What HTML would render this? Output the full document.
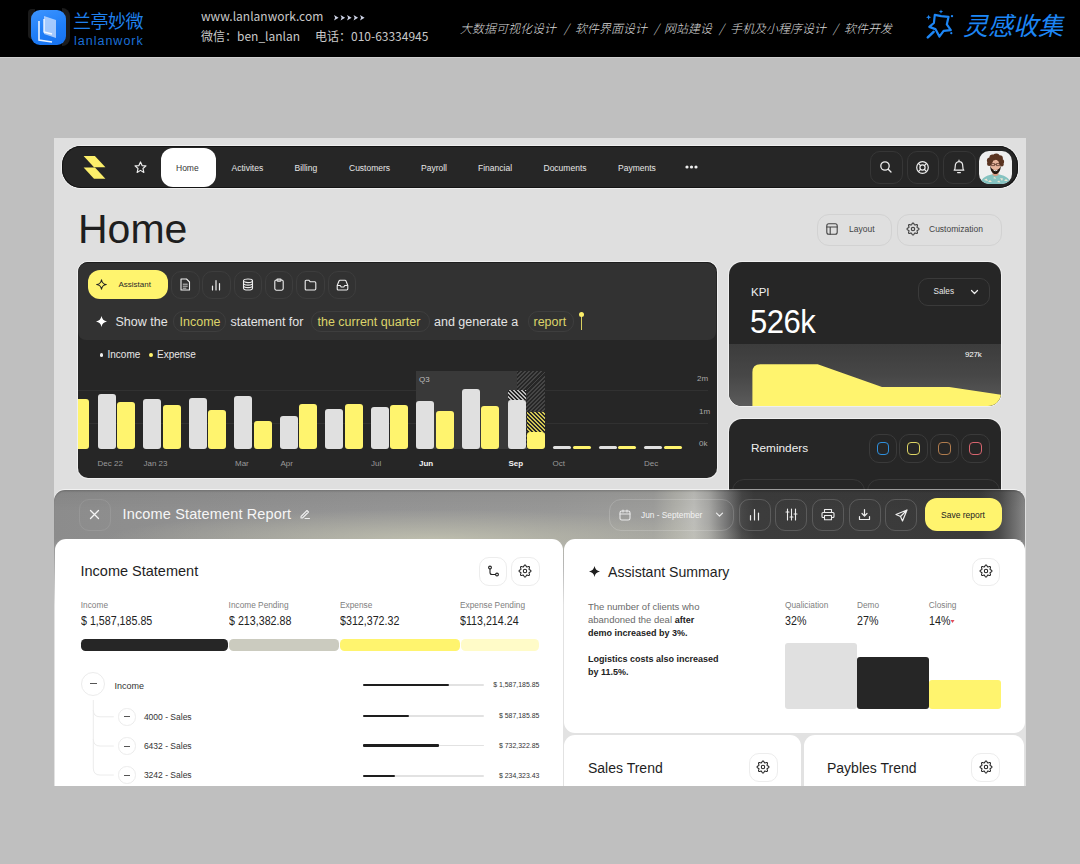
<!DOCTYPE html>
<html><head><meta charset="utf-8">
<style>
*{box-sizing:border-box;margin:0;padding:0}
html,body{width:1080px;height:864px;overflow:hidden;background:#bfbfbf;font-family:"Liberation Sans","Noto Sans CJK SC",sans-serif}
.a{position:absolute}
#banner{left:0;top:0;width:1080px;height:57px;background:#000}
#app{left:0;top:0;width:1080px;height:864px;clip-path:inset(138px 54px 78px 54px)}
#appbg{left:54px;top:138px;width:972px;height:648px;background:#dfdfdf}
.nv{top:163.5px;font-size:8.5px;color:#e6e6e6}
.ib{position:absolute;border:1px solid #363636;border-radius:10px}
.pr{top:316px;font-size:12.5px;color:#e4e4e4}
.py{color:#dcd46a}
.chip{position:absolute;top:311px;height:20.5px;border:1px solid #3e3e3e;border-radius:10px}
.bar{position:absolute;width:18px}
.lg{top:350px;font-size:10px;color:#e8e8e8}
.xl{top:459.5px;font-size:8px;color:#9a9a9a}
.yl{font-size:8px;color:#a8a8a8}
.ob{top:498.7px;width:32.2px;height:32.2px;border-color:rgba(255,255,255,0.16)}
.wc{background:#fff;border-radius:11px}
.lb{width:28.5px;height:28.5px;border-color:#ededed}
.lab{top:600.5px;font-size:8.3px;color:#808080}
.val{top:614.5px;font-size:12px;color:#222;transform:scaleX(0.89);transform-origin:0 0}
.pb{top:639.2px;height:11.7px;border-radius:4.5px}
.circ{border:1px solid #ececec;border-radius:50%}
.sub{font-size:8.5px;color:#333}
.trk{left:362.8px;width:121px;height:1.8px;background:#e2e2e2;border-radius:1px}
.fil{left:362.8px;height:2.2px;background:#1e1e1e;border-radius:1px}
.rv{left:480px;width:59.4px;text-align:right;font-size:7.7px;color:#333;transform:scaleX(0.9);transform-origin:100% 0}
.par{font-size:9.5px;color:#6a6a6a}
.par b{color:#222;font-size:9px}
.ico{position:absolute;fill:none;stroke-linecap:round;stroke-linejoin:round}
.t{position:absolute;white-space:nowrap;line-height:1}
.cn{top:21.5px;font-size:12px;color:#dadada;font-style:italic;font-weight:300;font-family:'Noto Sans CJK SC',sans-serif}
</style></head>
<body>
<!-- BANNER -->
<div class="a" style="left:0;top:57px;width:1080px;height:1px;background:#d0d0d0"></div>
<div id="banner" class="a">
  <div class="a" style="left:28px;top:9px;width:7px;height:30px;border-radius:4px 0 0 4px;background:#1a1a1a"></div>
  <div class="a" style="left:62px;top:8px;width:8px;height:38px;border-radius:0 8px 8px 0;background:#1c1c1c"></div>
  <div class="a" style="left:31px;top:10px;width:35px;height:35px;border-radius:9px;background:linear-gradient(160deg,#3d95ff 0%,#1f7ef7 55%,#1670ee 100%)"></div>
  <svg class="a" style="left:31px;top:10px" width="35" height="35" viewBox="0 0 35 35">
    <path d="M13 6 L25 10 L25 28 L13 24 Z" fill="#cfe2ff" opacity="0.75"/>
    <path d="M8 11 L8 30 L21 32" stroke="#fff" stroke-width="1.6" fill="none" opacity="0.9"/>
    <path d="M13 9 L13 22 L21 24" stroke="#fff" stroke-width="1.4" fill="none" opacity="0.9"/>
  </svg>
  <div class="t" style="left:73px;top:11px;font-size:18px;color:#1f80ee;font-family:'Noto Sans CJK SC',sans-serif;letter-spacing:-0.5px">兰亭妙微</div>
  <div class="t" style="left:74px;top:34.5px;font-size:12.5px;color:#1b6fd6;font-family:'Liberation Sans',sans-serif;letter-spacing:1px">lanlanwork</div>
  <div class="t" style="left:201px;top:10px;font-size:12px;color:#c9c9c9;font-family:'Noto Sans CJK SC',sans-serif">www.lanlanwork.com</div>
  <svg class="a" style="left:334.2px;top:14.9px" width="32" height="6" viewBox="0 0 32 6" fill="#cdd3e6"><path d="M0.0 0 L4.6 2.7 L0.0 5.4 L1.1 2.7 Z"/><path d="M6.5 0 L11.1 2.7 L6.5 5.4 L7.6 2.7 Z"/><path d="M13.0 0 L17.6 2.7 L13.0 5.4 L14.1 2.7 Z"/><path d="M19.5 0 L24.1 2.7 L19.5 5.4 L20.6 2.7 Z"/><path d="M26.0 0 L30.6 2.7 L26.0 5.4 L27.1 2.7 Z"/></svg>
  <div class="t" style="left:201px;top:30px;font-size:12px;color:#c9c9c9;font-family:'Noto Sans CJK SC',sans-serif">微信：ben_lanlan</div>
  <div class="t" style="left:315px;top:30px;font-size:12px;color:#c9c9c9;font-family:'Noto Sans CJK SC',sans-serif">电话：010-63334945</div>
  <div class="t cn" style="left:460px">大数据可视化设计</div>
  <div class="t cn" style="left:564px">/</div>
  <div class="t cn" style="left:575px">软件界面设计</div>
  <div class="t cn" style="left:654px">/</div>
  <div class="t cn" style="left:664px">网站建设</div>
  <div class="t cn" style="left:719px">/</div>
  <div class="t cn" style="left:730px">手机及小程序设计</div>
  <div class="t cn" style="left:833px">/</div>
  <div class="t cn" style="left:844px">软件开发</div>
  <svg class="a" style="left:920px;top:5px" width="40" height="40" viewBox="920 5 40 40">
    <path d="M934.8 14.9 L941.2 16.1 L948.5 16.9 L946.8 24.4 L950.8 30.1 L943.6 30.9 L939.4 36.6 L935.4 29.1 L929.3 26.9 L933.9 23 Z" stroke="#1d86f5" stroke-width="2.2" fill="none" stroke-linejoin="round"/>
    <path d="M933.6 31.9 L927.8 37.4" stroke="#1d86f5" stroke-width="2.6" stroke-linecap="round"/>
    <path d="M928.6 14.700000000000001 L929.328 16.572 L931.2 17.3 L929.328 18.028000000000002 L928.6 19.900000000000002 L927.8720000000001 18.028000000000002 L926.0 17.3 L927.8720000000001 16.572 Z" fill="#1d86f5"/>
    <path d="M941 9.399999999999999 L941.616 10.984 L943.2 11.6 L941.616 12.216 L941 13.8 L940.384 12.216 L938.8 11.6 L940.384 10.984 Z" fill="#1d86f5"/>
    <circle cx="952" cy="16.1" r="1.2" fill="#1d86f5"/><circle cx="951.3" cy="33.2" r="1.1" fill="#1d86f5"/>
  </svg>
  <div class="t" style="left:963px;top:12px;font-size:25px;color:#1d86f5;font-style:italic;font-family:'Noto Sans CJK SC',sans-serif">灵感收集</div>
</div>

<!-- APP -->
<div id="app" class="a">
<div id="appbg" class="a"></div>
<!-- NAV -->
<div class="a" style="left:62px;top:146.2px;width:955.8px;height:41.9px;background:#262626;border-radius:19px;box-shadow:0 0 0 1px rgba(250,250,250,0.6),inset 0 0 0 1px #141414"></div>
<svg class="a" style="left:83px;top:156px" width="23" height="24" viewBox="0 0 23 24">
  <path d="M0.6 0 H11.9 L22.4 11.2 H11 Z" fill="#fcef6a"/>
  <path d="M0.6 11.5 H12 L22.4 22.8 H11 Z" fill="#fcef6a"/>
</svg>
<svg class="ico" style="left:134.3px;top:160.6px;stroke:#eee;stroke-width:1.25" width="13" height="13" viewBox="0.5 0.5 14 14"><path d="M7.5 1.5 L9.2 5.4 L13.4 5.8 L10.2 8.6 L11.1 12.8 L7.5 10.6 L3.9 12.8 L4.8 8.6 L1.6 5.8 L5.8 5.4 Z"/></svg>
<div class="a" style="left:160.5px;top:147.5px;width:55px;height:39.5px;background:#fff;border-radius:12px"></div>
<div class="t nv" style="left:176px;color:#333">Home</div>
<div class="t nv" style="left:231.5px">Activites</div>
<div class="t nv" style="left:294.5px">Billing</div>
<div class="t nv" style="left:349px">Customers</div>
<div class="t nv" style="left:421px">Payroll</div>
<div class="t nv" style="left:478px">Financial</div>
<div class="t nv" style="left:543.5px">Documents</div>
<div class="t nv" style="left:618px">Payments</div>
<svg class="a" style="left:685px;top:165px" width="13" height="4"><circle cx="2" cy="2" r="1.6" fill="#eee"/><circle cx="6.5" cy="2" r="1.6" fill="#eee"/><circle cx="11" cy="2" r="1.6" fill="#eee"/></svg>
<div class="ib" style="left:870px;top:151px;width:32.5px;height:32.5px"></div>
<div class="ib" style="left:906.5px;top:151px;width:32.5px;height:32.5px"></div>
<div class="ib" style="left:943px;top:151px;width:32.5px;height:32.5px"></div>
<svg class="ico" style="left:879px;top:160px;stroke:#eee;stroke-width:1.3" width="14" height="14" viewBox="0 0 14 14"><circle cx="6" cy="6" r="4.2"/><path d="M9.2 9.2 L12 12"/></svg>
<svg class="ico" style="left:915px;top:159.5px;stroke:#eee;stroke-width:1.2" width="15" height="15" viewBox="0 0 15 15"><circle cx="7.5" cy="7.5" r="5.8"/><circle cx="7.5" cy="7.5" r="2.6"/><path d="M3.4 3.4 L5.6 5.6 M11.6 3.4 L9.4 5.6 M3.4 11.6 L5.6 9.4 M11.6 11.6 L9.4 9.4"/></svg>
<svg class="ico" style="left:952px;top:159px;stroke:#eee;stroke-width:1.2" width="14" height="16" viewBox="0 0 14 16"><path d="M2.2 11.2 C3 10.3 3.2 9.2 3.2 7.4 C3.2 4.6 4.8 2.6 7 2.6 C9.2 2.6 10.8 4.6 10.8 7.4 C10.8 9.2 11 10.3 11.8 11.2 Z M7 1.2 V2.6 M5.6 13.6 H8.4"/></svg>
<div class="a" style="left:979.3px;top:151px;width:33px;height:33px;border-radius:10px;background:#efefef;overflow:hidden">
  <svg width="33" height="33" viewBox="0 0 33 33">
    <path d="M1 33 C2 27 8 23.5 16.5 23 C25 23.5 31 27 32 33 Z" fill="#86c3c1"/>
    <path d="M5 29 l2.5 -1.5 l1.5 2.5 z M9 31 l2 -2 l2 2 z M21 27 l3 0.5 l-1 2.5z M25 30 l2 -2 l2 2z M14 27 l2 -1 l1 2z M18 31 l2 -1.5 l1.5 2z" fill="#f0e4d0"/>
    <path d="M13.5 19 h6 v5 c-2 1.5 -4 1.5 -6 0 z" fill="#d49a82"/>
    <ellipse cx="16.5" cy="13.8" rx="5.3" ry="6.6" fill="#e6b49c"/>
    <path d="M11.2 14.5 c0 5.5 2.5 8.6 5.3 8.6 s5.3 -3.1 5.3 -8.6 c-0.8 3 -2.2 4.4 -5.3 4.4 s-4.5 -1.4 -5.3 -4.4z" fill="#22160f"/>
    <g fill="#5b3522"><circle cx="11" cy="9.5" r="3.1"/><circle cx="13.6" cy="6.6" r="3.2"/><circle cx="17.3" cy="5.8" r="3.3"/><circle cx="20.8" cy="7.4" r="3.1"/><circle cx="22.4" cy="10.8" r="2.7"/><circle cx="10.2" cy="12.8" r="2.2"/><circle cx="22.8" cy="13.6" r="1.9"/></g>
    <path d="M12.3 12.6 h3.3 v2 h-3.3z M17.4 12.6 h3.3 v2 h-3.3z M15.6 13.4 h1.8" stroke="#4a2a1e" stroke-width="0.7" fill="none"/>
    <path d="M14.6 19.2 q1.9 1 3.8 0" stroke="#fff" stroke-width="0.9" fill="none"/>
  </svg>
</div>
<!-- MID -->
<!-- ASSISTANT CARD -->
<div class="a" style="left:78px;top:261.8px;width:639.2px;height:216.3px;background:#262626;border-radius:10px;overflow:hidden;box-shadow:0 0 0 1px rgba(250,250,250,0.6),inset 0 1.5px 0 #1e1e1e">
  <div class="a" style="left:0;top:1.5px;width:637.7px;height:76.8px;background:#323232;border-radius:9px 9px 8px 8px"></div>
</div>
<div class="a" style="left:87.5px;top:269.8px;width:80.3px;height:29px;background:#fff46e;border-radius:12px"></div>
<svg class="ico" style="left:96.3px;top:278.5px;stroke:#222;stroke-width:1.05" width="11" height="11" viewBox="0 0 11 11"><path d="M5.5 0.7 C5.9 3.5 7.5 5.1 10.3 5.5 C7.5 5.9 5.9 7.5 5.5 10.3 C5.1 7.5 3.5 5.9 0.7 5.5 C3.5 5.1 5.1 3.5 5.5 0.7 Z"/></svg>
<div class="t" style="left:118.5px;top:280.5px;font-size:8px;color:#2a2a2a">Assistant</div>
<div class="ib" style="left:171px;top:270.5px;width:28.5px;height:28.5px;border-color:#3d3d3d"></div>
<div class="ib" style="left:202px;top:270.5px;width:28.5px;height:28.5px;border-color:#3d3d3d"></div>
<div class="ib" style="left:233.5px;top:270.5px;width:28.5px;height:28.5px;border-color:#3d3d3d"></div>
<div class="ib" style="left:264.5px;top:270.5px;width:28.5px;height:28.5px;border-color:#3d3d3d"></div>
<div class="ib" style="left:296px;top:270.5px;width:28.5px;height:28.5px;border-color:#3d3d3d"></div>
<div class="ib" style="left:327.5px;top:270.5px;width:28.5px;height:28.5px;border-color:#3d3d3d"></div>
<svg class="ico" style="left:179px;top:278px;stroke:#eee;stroke-width:1.1" width="12" height="13" viewBox="0 0 12 13"><path d="M2 1 H7.5 L10.5 4 V12 H2 Z"/><path d="M4.2 6.2 H8.3 M4.2 8.2 H8.3 M4.2 10.2 H7" stroke-width="0.8"/></svg>
<svg class="ico" style="left:210px;top:278px;stroke:#eee;stroke-width:1.2" width="12" height="13" viewBox="0 0 12 13"><path d="M2.5 12 V8 M6 12 V2.5 M9.5 12 V5.5"/></svg>
<svg class="ico" style="left:241.5px;top:278px;stroke:#eee;stroke-width:1.1" width="12" height="13" viewBox="0 0 12 13"><ellipse cx="6" cy="2.8" rx="4.5" ry="1.8"/><path d="M1.5 2.8 V10.2 C1.5 11.2 3.5 12 6 12 C8.5 12 10.5 11.2 10.5 10.2 V2.8 M1.5 5.3 C1.5 6.3 3.5 7.1 6 7.1 C8.5 7.1 10.5 6.3 10.5 5.3 M1.5 7.8 C1.5 8.8 3.5 9.6 6 9.6 C8.5 9.6 10.5 8.8 10.5 7.8"/></svg>
<svg class="ico" style="left:272.5px;top:278px;stroke:#eee;stroke-width:1.1" width="12" height="13" viewBox="0 0 12 13"><rect x="1.8" y="2" width="8.4" height="10.2" rx="1.6"/><rect x="4" y="1" width="4" height="2.2" rx="0.6"/></svg>
<svg class="ico" style="left:304px;top:278.5px;stroke:#eee;stroke-width:1.1" width="13" height="12" viewBox="0 0 13 12"><path d="M1.2 2.5 C1.2 1.8 1.6 1.3 2.3 1.3 H5 L6.3 2.8 H10.7 C11.4 2.8 11.8 3.3 11.8 4 V9.8 C11.8 10.5 11.4 11 10.7 11 H2.3 C1.6 11 1.2 10.5 1.2 9.8 Z"/></svg>
<svg class="ico" style="left:335.5px;top:278.5px;stroke:#eee;stroke-width:1.1" width="13" height="12" viewBox="0 0 13 12"><path d="M1.2 6.5 L3 2 C3.2 1.5 3.6 1.3 4 1.3 H9 C9.4 1.3 9.8 1.5 10 2 L11.8 6.5 V9.8 C11.8 10.5 11.4 11 10.7 11 H2.3 C1.6 11 1.2 10.5 1.2 9.8 Z M1.2 6.5 H4.3 L5.2 8 H7.8 L8.7 6.5 H11.8"/></svg>

<!-- CHART -->
<div class="a" style="left:78px;top:261.8px;width:639.2px;height:216.3px;border-radius:10px;overflow:hidden">
<div class="a" style="left:-78px;top:-261.8px;width:1080px;height:864px">
<div class="a" style="left:78px;top:389.5px;width:630px;height:1px;background:#313131"></div>
<div class="a" style="left:78px;top:422.5px;width:630px;height:1px;background:#313131"></div>
<div class="a" style="left:416px;top:371px;width:101.3px;height:78.3px;background:#393939"></div>
<div class="a" style="left:517.3px;top:371px;width:28px;height:78.3px;background:repeating-linear-gradient(-45deg,#262626 0 1.6px,#464646 1.6px 2.9px)"></div>
<div class="t" style="left:419px;top:375.5px;font-size:8px;color:#bdbdbd">Q3</div>
<div class="bar" style="left:71.4px;top:398.7px;height:50.6px;background:#fff46e;border-radius:3px"></div>
<div class="bar" style="left:97.6px;top:394.2px;height:55.1px;background:#e0e0e0;border-radius:3px"></div>
<div class="bar" style="left:117.0px;top:401.7px;height:47.6px;background:#fff46e;border-radius:3px"></div>
<div class="bar" style="left:143.1px;top:398.7px;height:50.6px;background:#e0e0e0;border-radius:3px"></div>
<div class="bar" style="left:162.5px;top:405.3px;height:44.0px;background:#fff46e;border-radius:3px"></div>
<div class="bar" style="left:188.7px;top:397.8px;height:51.5px;background:#e0e0e0;border-radius:3px"></div>
<div class="bar" style="left:208.1px;top:409.8px;height:39.5px;background:#fff46e;border-radius:3px"></div>
<div class="bar" style="left:234.2px;top:396.3px;height:53.0px;background:#e0e0e0;border-radius:3px"></div>
<div class="bar" style="left:253.7px;top:420.6px;height:28.7px;background:#fff46e;border-radius:3px"></div>
<div class="bar" style="left:279.8px;top:415.8px;height:33.5px;background:#e0e0e0;border-radius:3px"></div>
<div class="bar" style="left:299.2px;top:403.8px;height:45.5px;background:#fff46e;border-radius:3px"></div>
<div class="bar" style="left:325.3px;top:408.6px;height:40.7px;background:#e0e0e0;border-radius:3px"></div>
<div class="bar" style="left:344.7px;top:403.8px;height:45.5px;background:#fff46e;border-radius:3px"></div>
<div class="bar" style="left:370.9px;top:406.8px;height:42.5px;background:#e0e0e0;border-radius:3px"></div>
<div class="bar" style="left:390.3px;top:405.1px;height:44.2px;background:#fff46e;border-radius:3px"></div>
<div class="bar" style="left:416.4px;top:401.1px;height:48.2px;background:#e0e0e0;border-radius:3px"></div>
<div class="bar" style="left:435.8px;top:410.9px;height:38.4px;background:#fff46e;border-radius:3px"></div>
<div class="bar" style="left:462.0px;top:388.9px;height:60.4px;background:#e0e0e0;border-radius:3px"></div>
<div class="bar" style="left:481.4px;top:405.7px;height:43.6px;background:#fff46e;border-radius:3px"></div>
<div class="bar" style="left:507.6px;top:399.6px;height:49.7px;background:#e0e0e0;border-radius:3px"></div>
<div class="bar" style="left:527.0px;top:431.7px;height:17.6px;background:#fff46e;border-radius:3px"></div>
<div class="bar" style="left:553.1px;top:446.3px;height:3.0px;background:#e0e0e0;border-radius:1.5px"></div>
<div class="bar" style="left:572.5px;top:446.3px;height:3.0px;background:#fff46e;border-radius:1.5px"></div>
<div class="bar" style="left:598.6px;top:446.3px;height:3.0px;background:#e0e0e0;border-radius:1.5px"></div>
<div class="bar" style="left:618.0px;top:446.3px;height:3.0px;background:#fff46e;border-radius:1.5px"></div>
<div class="bar" style="left:644.2px;top:446.3px;height:3.0px;background:#e0e0e0;border-radius:1.5px"></div>
<div class="bar" style="left:663.6px;top:446.3px;height:3.0px;background:#fff46e;border-radius:1.5px"></div>
<div class="a" style="left:507.6px;top:389.5px;width:18.3px;height:10px;background:repeating-linear-gradient(45deg,#262626 0 1.5px,#b8b8b8 1.5px 2.9px)"></div>
<div class="a" style="left:527px;top:411.5px;width:18.3px;height:20px;background:repeating-linear-gradient(45deg,#262626 0 1.5px,#cfc454 1.5px 2.9px)"></div>
</div></div>
<div class="a" style="left:99.6px;top:353.4px;width:3.8px;height:3.8px;border-radius:50%;background:#eee"></div>
<div class="t lg" style="left:107.5px">Income</div>
<div class="a" style="left:149.2px;top:353.4px;width:3.8px;height:3.8px;border-radius:50%;background:#fff46e"></div>
<div class="t lg" style="left:157px">Expense</div>
<div class="t xl" style="left:97.5px">Dec 22</div>
<div class="t xl" style="left:143.5px">Jan 23</div>
<div class="t xl" style="left:235px">Mar</div>
<div class="t xl" style="left:280.5px">Apr</div>
<div class="t xl" style="left:371px">Jul</div>
<div class="t xl" style="left:419px;color:#f2f2f2;font-weight:bold">Jun</div>
<div class="t xl" style="left:508.5px;color:#f2f2f2;font-weight:bold">Sep</div>
<div class="t xl" style="left:552.5px">Oct</div>
<div class="t xl" style="left:644px">Dec</div>
<div class="t yl" style="left:697px;top:375px">2m</div>
<div class="t yl" style="left:699px;top:407.5px">1m</div>
<div class="t yl" style="left:699px;top:440px">0k</div>
<!-- prompt -->
<svg class="a" style="left:95.5px;top:316px" width="11" height="11" viewBox="0 0 11 11"><path d="M5.5 0 C6.1 3.2 7.8 4.9 11 5.5 C7.8 6.1 6.1 7.8 5.5 11 C4.9 7.8 3.2 6.1 0 5.5 C3.2 4.9 4.9 3.2 5.5 0 Z" fill="#fff"/></svg>
<div class="t pr" style="left:115.5px">Show the</div>
<div class="chip" style="left:172.5px;width:53px"></div>
<div class="t pr py" style="left:179.5px">Income</div>
<div class="t pr" style="left:230.5px">statement for</div>
<div class="chip" style="left:310.5px;width:119px"></div>
<div class="t pr py" style="left:317.5px">the current quarter</div>
<div class="t pr" style="left:434px">and generate a</div>
<div class="chip" style="left:527.5px;width:46px"></div>
<div class="t pr py" style="left:533.5px">report</div>
<div class="a" style="left:580.5px;top:313.5px;width:1px;height:16px;background:#d8d060"></div>
<div class="a" style="left:578.5px;top:311.5px;width:5px;height:5px;border-radius:50%;background:#fcef6a"></div>

<!-- KPI -->
<div class="a" style="left:728.7px;top:262px;width:272.8px;height:144px;background:#262626;border-radius:13px;overflow:hidden;box-shadow:0 0 0 1px rgba(250,250,250,0.6)">
  <div class="a" style="left:0;top:82px;width:273.5px;height:63px;background:linear-gradient(180deg,#3c3c3c 0%,#474747 50%,#5c5c5c 100%)"></div>
  <svg class="a" style="left:0;top:0" width="274" height="145" viewBox="0 0 274 145">
    <path d="M23.4 144.5 V110.3 Q23.4 102.3 31.4 102.3 H88.7 L153 125.1 H220.2 L273.5 133.1 V144.5 Z" fill="#fff46e"/>
  </svg>
</div>
<div class="t" style="left:751px;top:286.7px;font-size:11.5px;color:#f0f0f0">KPI</div>
<div class="t" style="left:750px;top:304.6px;font-size:33px;color:#fff;letter-spacing:-0.5px;transform:scaleX(0.94);transform-origin:0 0">526k</div>
<div class="a" style="left:917.5px;top:278px;width:72px;height:28px;border:1px solid #3a3a3a;border-radius:10px"></div>
<div class="t" style="left:933.5px;top:288.3px;font-size:8.2px;color:#e8e8e8">Sales</div>
<svg class="ico" style="left:970px;top:289px;stroke:#eee;stroke-width:1.2" width="9" height="6" viewBox="0 0 9 6"><path d="M1.5 1.5 L4.5 4.5 L7.5 1.5"/></svg>
<div class="t" style="left:965px;top:350.5px;font-size:8px;color:#fff;letter-spacing:-0.2px">927k</div>
<!-- REMINDERS -->
<div class="a" style="left:728.7px;top:418.5px;width:272.8px;height:120px;background:#262626;border-radius:13px;overflow:hidden;box-shadow:0 0 0 1px rgba(250,250,250,0.6)">
  <div class="a" style="left:3px;top:60.5px;width:133px;height:60px;border:1px solid #383838;border-radius:12px"></div>
  <div class="a" style="left:138.5px;top:60.5px;width:133px;height:60px;border:1px solid #383838;border-radius:12px"></div>
</div>
<div class="t" style="left:751px;top:443px;font-size:11.8px;color:#f0f0f0">Reminders</div>
<div class="ib" style="left:868.5px;top:434px;width:28.5px;height:28.5px;border-color:#3a3a3a"></div>
<div class="ib" style="left:899px;top:434px;width:28.5px;height:28.5px;border-color:#3a3a3a"></div>
<div class="ib" style="left:930.3px;top:434px;width:28.5px;height:28.5px;border-color:#3a3a3a"></div>
<div class="ib" style="left:961px;top:434px;width:28.5px;height:28.5px;border-color:#3a3a3a"></div>
<div class="a" style="left:876.5px;top:442px;width:12.5px;height:12.5px;border:1.6px solid #2f8fdc;border-radius:4px"></div>
<div class="a" style="left:907px;top:442px;width:12.5px;height:12.5px;border:1.6px solid #ddd464;border-radius:4px"></div>
<div class="a" style="left:938.3px;top:442px;width:12.5px;height:12.5px;border:1.6px solid #b07c4e;border-radius:4px"></div>
<div class="a" style="left:969px;top:442px;width:12.5px;height:12.5px;border:1.6px solid #d7646e;border-radius:4px"></div>
<!-- /MID -->
<!-- TITLE -->
<div class="t" style="left:78px;top:208.5px;font-size:41px;color:#1e1e1e">Home</div>
<div class="a" style="left:816.5px;top:214px;width:75.5px;height:31.5px;border:1px solid #d2d2d2;border-radius:12px"></div>
<div class="a" style="left:896.5px;top:214px;width:105px;height:31.5px;border:1px solid #d2d2d2;border-radius:12px"></div>
<svg class="ico" style="left:826px;top:223px;stroke:#444;stroke-width:1.1" width="12" height="12" viewBox="0 0 12 12"><rect x="0.8" y="0.8" width="10.4" height="10.4" rx="2"/><path d="M0.8 4 H11.2 M4.2 4 V11.2"/></svg>
<div class="t" style="left:849px;top:225px;font-size:8.5px;color:#444">Layout</div>
<svg class="ico" style="left:905.5px;top:222.4px;stroke:#444;stroke-width:1.15" width="14" height="14" viewBox="0 0 14 14"><path d="M13.00 7.00 L12.88 7.39 L12.55 7.73 L12.10 8.01 L11.64 8.24 L11.27 8.45 L11.07 8.68 L11.04 8.99 L11.16 9.40 L11.32 9.89 L11.44 10.41 L11.43 10.89 L11.24 11.24 L10.89 11.43 L10.41 11.44 L9.89 11.32 L9.40 11.16 L8.99 11.04 L8.68 11.07 L8.45 11.27 L8.24 11.64 L8.01 12.10 L7.73 12.55 L7.39 12.88 L7.00 13.00 L6.61 12.88 L6.27 12.55 L5.99 12.10 L5.76 11.64 L5.55 11.27 L5.32 11.07 L5.01 11.04 L4.60 11.16 L4.11 11.32 L3.59 11.44 L3.11 11.43 L2.76 11.24 L2.57 10.89 L2.56 10.41 L2.68 9.89 L2.84 9.40 L2.96 8.99 L2.93 8.68 L2.73 8.45 L2.36 8.24 L1.90 8.01 L1.45 7.73 L1.12 7.39 L1.00 7.00 L1.12 6.61 L1.45 6.27 L1.90 5.99 L2.36 5.76 L2.73 5.55 L2.93 5.32 L2.96 5.01 L2.84 4.60 L2.68 4.11 L2.56 3.59 L2.57 3.11 L2.76 2.76 L3.11 2.57 L3.59 2.56 L4.11 2.68 L4.60 2.84 L5.01 2.96 L5.32 2.93 L5.55 2.73 L5.76 2.36 L5.99 1.90 L6.27 1.45 L6.61 1.12 L7.00 1.00 L7.39 1.12 L7.73 1.45 L8.01 1.90 L8.24 2.36 L8.45 2.73 L8.68 2.93 L8.99 2.96 L9.40 2.84 L9.89 2.68 L10.41 2.56 L10.89 2.57 L11.24 2.76 L11.43 3.11 L11.44 3.59 L11.32 4.11 L11.16 4.60 L11.04 5.01 L11.07 5.32 L11.27 5.55 L11.64 5.76 L12.10 5.99 L12.55 6.27 L12.88 6.61 Z"/><circle cx="7" cy="7" r="1.7"/></svg>
<div class="t" style="left:929px;top:224.5px;font-size:8.5px;color:#444">Customization</div>

<!-- OVERLAY -->
<div class="a" style="left:54px;top:490px;width:971px;height:300px;border-radius:11px 11px 0 0;overflow:hidden;box-shadow:0 -1px 0 rgba(255,255,255,0.55);background:#e2e2e2">
  <div class="a" style="left:0;top:0;width:971px;height:115px;background:linear-gradient(90deg,#8c8c8c 0px,#909090 150px,#959595 330px,#989897 500px,#9d9d9b 600px,#b0b0aa 622px,#bdbdb9 640px,#a8a8a5 655px,#777 672px,#474747 688px,#3c3c3c 700px,#3a3a3a 925px,#4a4a4a 945px,#747474 963px,#888 971px)"></div>
  <div class="a" style="left:0;top:0;width:971px;height:115px;background:radial-gradient(ellipse 330px 30px at 380px 50px,rgba(200,200,180,0.8),rgba(200,200,180,0) 100%)"></div>
  <div class="a" style="left:0;top:0;width:971px;height:50px;background:linear-gradient(180deg,rgba(0,0,0,0.05),rgba(0,0,0,0) 22px)"></div>
  <div class="a" style="left:0;top:0;width:971px;height:40px;border-radius:11px 11px 0 0;box-shadow:inset 0 1.5px 1.2px rgba(0,0,0,0.14)"></div>

  <div class="a" style="left:0;top:49px;width:971px;height:66px;background:linear-gradient(180deg,rgba(226,226,226,0) 0px,#e2e2e2 66px)"></div>
</div>
<div class="ib" style="left:78.5px;top:498.5px;width:32px;height:32px;border-color:rgba(255,255,255,0.09)"></div>
<svg class="ico" style="left:89px;top:509px;stroke:#f4f4f4;stroke-width:1.3" width="11" height="11" viewBox="0 0 11 11"><path d="M1.5 1.5 L9.5 9.5 M9.5 1.5 L1.5 9.5"/></svg>
<div class="t" style="left:122.5px;top:507px;font-size:14.5px;color:#f6f6f6;letter-spacing:0.15px">Income Statement Report</div>
<svg class="ico" style="left:299px;top:508px;stroke:#eee;stroke-width:1.1" width="12" height="12" viewBox="0 0 12 12"><path d="M2 8.5 L8 2.5 L9.5 4 L3.5 10 H2 Z M6 10.5 H10.5"/></svg>
<div class="ib" style="left:608.5px;top:498.5px;width:125.5px;height:32.5px;border-color:rgba(255,255,255,0.16);border-radius:12px"></div>
<svg class="ico" style="left:619px;top:508.5px;stroke:#e8e8e8;stroke-width:1.1" width="12" height="12" viewBox="0 0 12 12"><rect x="1" y="2" width="10" height="9" rx="1.8"/><path d="M1 5 H11 M4 1 V3 M8 1 V3"/></svg>
<div class="t" style="left:641px;top:510.5px;font-size:8.3px;color:#f2f2f2">Jun - September</div>
<svg class="ico" style="left:715px;top:512px;stroke:#eee;stroke-width:1.2" width="9" height="6" viewBox="0 0 9 6"><path d="M1.5 1.2 L4.5 4.2 L7.5 1.2"/></svg>
<div class="ib ob" style="left:738.5px"></div>
<div class="ib ob" style="left:775.2px"></div>
<div class="ib ob" style="left:812px"></div>
<div class="ib ob" style="left:848.5px"></div>
<div class="ib ob" style="left:885px"></div>
<svg class="ico" style="left:748px;top:508px;stroke:#eee;stroke-width:1.2" width="13" height="13" viewBox="0 0 13 13"><path d="M2.5 12 V7.5 M6.5 12 V1.5 M10.5 12 V5"/></svg>
<svg class="ico" style="left:784.5px;top:508px;stroke:#eee;stroke-width:1.1" width="13" height="13" viewBox="0 0 13 13"><path d="M2.5 1 V12 M6.5 1 V12 M10.5 1 V12 M1 4 H4 M5 9 H8 M9 6 H12"/></svg>
<svg class="ico" style="left:821px;top:508px;stroke:#eee;stroke-width:1.1" width="14" height="13" viewBox="0 0 14 13"><path d="M3.5 4.5 V1.5 H10.5 V4.5 M3.5 9.5 H2 C1.4 9.5 1 9.1 1 8.5 V5.5 C1 4.9 1.4 4.5 2 4.5 H12 C12.6 4.5 13 4.9 13 5.5 V8.5 C13 9.1 12.6 9.5 12 9.5 H10.5 M3.5 7.5 H10.5 V11.8 H3.5 Z"/></svg>
<svg class="ico" style="left:857.5px;top:508px;stroke:#eee;stroke-width:1.2" width="13" height="13" viewBox="0 0 13 13"><path d="M6.5 1.5 V8 M4 5.5 L6.5 8 L9 5.5 M1.5 8.5 V11.5 H11.5 V8.5"/></svg>
<svg class="ico" style="left:894.5px;top:508.5px;stroke:#eee;stroke-width:1.2" width="13" height="13" viewBox="0 0 13 13"><path d="M12 1 L1 5.5 L5.5 7.5 L7.5 12 Z M12 1 L5.5 7.5"/></svg>
<div class="a" style="left:925.3px;top:498px;width:76.5px;height:33px;background:#fff46e;border-radius:12px"></div>
<div class="t" style="left:941px;top:510.5px;font-size:8.5px;color:#222">Save report</div>

<!-- INCOME STATEMENT CARD -->
<div class="a wc" style="left:55px;top:539px;width:508px;height:260px"></div>
<div class="t" style="left:80.5px;top:564px;font-size:14.5px;color:#1e1e1e">Income Statement</div>
<div class="ib lb" style="left:478.7px;top:557px"></div>
<div class="ib lb" style="left:511.2px;top:557px"></div>
<svg class="ico" style="left:486.5px;top:565px;stroke:#222;stroke-width:1.1" width="13" height="13" viewBox="0 0 13 13"><circle cx="3" cy="2.5" r="1.4"/><circle cx="10" cy="9.5" r="1.4"/><path d="M3 4 V7.5 C3 8.8 4 9.5 5 9.5 H8.5"/></svg>
<svg class="ico" style="left:518.3px;top:564.3px;stroke:#222;stroke-width:1.05" width="14" height="14" viewBox="0 0 14 14"><path d="M13.00 7.00 L12.88 7.39 L12.55 7.73 L12.10 8.01 L11.64 8.24 L11.27 8.45 L11.07 8.68 L11.04 8.99 L11.16 9.40 L11.32 9.89 L11.44 10.41 L11.43 10.89 L11.24 11.24 L10.89 11.43 L10.41 11.44 L9.89 11.32 L9.40 11.16 L8.99 11.04 L8.68 11.07 L8.45 11.27 L8.24 11.64 L8.01 12.10 L7.73 12.55 L7.39 12.88 L7.00 13.00 L6.61 12.88 L6.27 12.55 L5.99 12.10 L5.76 11.64 L5.55 11.27 L5.32 11.07 L5.01 11.04 L4.60 11.16 L4.11 11.32 L3.59 11.44 L3.11 11.43 L2.76 11.24 L2.57 10.89 L2.56 10.41 L2.68 9.89 L2.84 9.40 L2.96 8.99 L2.93 8.68 L2.73 8.45 L2.36 8.24 L1.90 8.01 L1.45 7.73 L1.12 7.39 L1.00 7.00 L1.12 6.61 L1.45 6.27 L1.90 5.99 L2.36 5.76 L2.73 5.55 L2.93 5.32 L2.96 5.01 L2.84 4.60 L2.68 4.11 L2.56 3.59 L2.57 3.11 L2.76 2.76 L3.11 2.57 L3.59 2.56 L4.11 2.68 L4.60 2.84 L5.01 2.96 L5.32 2.93 L5.55 2.73 L5.76 2.36 L5.99 1.90 L6.27 1.45 L6.61 1.12 L7.00 1.00 L7.39 1.12 L7.73 1.45 L8.01 1.90 L8.24 2.36 L8.45 2.73 L8.68 2.93 L8.99 2.96 L9.40 2.84 L9.89 2.68 L10.41 2.56 L10.89 2.57 L11.24 2.76 L11.43 3.11 L11.44 3.59 L11.32 4.11 L11.16 4.60 L11.04 5.01 L11.07 5.32 L11.27 5.55 L11.64 5.76 L12.10 5.99 L12.55 6.27 L12.88 6.61 Z"/><circle cx="7" cy="7" r="1.7"/></svg>
<div class="t lab" style="left:80.8px">Income</div>
<div class="t lab" style="left:228.6px">Income Pending</div>
<div class="t lab" style="left:340px">Expense</div>
<div class="t lab" style="left:460px">Expense Pending</div>
<div class="t val" style="left:80.5px">$ 1,587,185.85</div>
<div class="t val" style="left:228.5px">$ 213,382.88</div>
<div class="t val" style="left:339.8px">$312,372.32</div>
<div class="t val" style="left:459.8px">$113,214.24</div>
<div class="a pb" style="left:80.8px;width:147.5px;background:#262626"></div>
<div class="a pb" style="left:229px;width:110.3px;background:#cbcbbf"></div>
<div class="a pb" style="left:340px;width:120px;background:#fff46e"></div>
<div class="a pb" style="left:460.8px;width:78.5px;background:#fffbc8"></div>
<!-- tree -->
<svg class="a" style="left:80px;top:670px" width="60" height="120" viewBox="0 0 60 120">
  <path d="M13.3 30 V40 Q13.3 46.8 20 46.8 H33.8 M13.3 40 V69 Q13.3 76 20 76 H33.8 M13.3 69 V98 Q13.3 105 20 105 H33.8" stroke="#ececec" stroke-width="1" fill="none"/>
</svg>
<div class="a circ" style="left:80.8px;top:671.5px;width:24.6px;height:24.6px"></div>
<div class="a" style="left:89.5px;top:683.3px;width:7px;height:1px;background:#555"></div>
<div class="t" style="left:114.5px;top:681.5px;font-size:9px;color:#333">Income</div>
<div class="a circ" style="left:118.1px;top:708px;width:17.5px;height:17.5px"></div>
<div class="a circ" style="left:118.1px;top:737.2px;width:17.5px;height:17.5px"></div>
<div class="a circ" style="left:118.1px;top:766.3px;width:17.5px;height:17.5px"></div>
<div class="a" style="left:124px;top:716.3px;width:5.6px;height:1px;background:#555"></div>
<div class="a" style="left:124px;top:745.5px;width:5.6px;height:1px;background:#555"></div>
<div class="a" style="left:124px;top:774.6px;width:5.6px;height:1px;background:#555"></div>
<div class="t sub" style="left:143.9px;top:712.5px">4000 - Sales</div>
<div class="t sub" style="left:143.9px;top:741.7px">6432 - Sales</div>
<div class="t sub" style="left:143.9px;top:770.8px">3242 - Sales</div>
<div class="a trk" style="top:684px"></div>
<div class="a trk" style="top:715px"></div>
<div class="a trk" style="top:744.5px"></div>
<div class="a trk" style="top:775px"></div>
<div class="a fil" style="top:683.9px;width:86.4px"></div>
<div class="a fil" style="top:714.9px;width:46.3px"></div>
<div class="a fil" style="top:744.4px;width:76.2px"></div>
<div class="a fil" style="top:774.9px;width:32px"></div>
<div class="t rv" style="top:681px">$ 1,587,185.85</div>
<div class="t rv" style="top:712px">$ 587,185.85</div>
<div class="t rv" style="top:741.5px">$ 732,322.85</div>
<div class="t rv" style="top:771.7px">$ 234,323.43</div>

<!-- ASSISTANT SUMMARY -->
<div class="a wc" style="left:564px;top:539px;width:461px;height:194px"></div>
<svg class="a" style="left:588.5px;top:565.5px" width="11" height="11" viewBox="0 0 11 11"><path d="M5.5 0 C6.1 3.2 7.8 4.9 11 5.5 C7.8 6.1 6.1 7.8 5.5 11 C4.9 7.8 3.2 6.1 0 5.5 C3.2 4.9 4.9 3.2 5.5 0 Z" fill="#1e1e1e"/></svg>
<div class="t" style="left:608px;top:564.5px;font-size:14.1px;color:#1e1e1e">Assistant Summary</div>
<div class="ib lb" style="left:971.8px;top:557.5px"></div>
<svg class="ico" style="left:979.2px;top:563.8px;stroke:#222;stroke-width:1.05" width="14" height="14" viewBox="0 0 14 14"><path d="M13.00 7.00 L12.88 7.39 L12.55 7.73 L12.10 8.01 L11.64 8.24 L11.27 8.45 L11.07 8.68 L11.04 8.99 L11.16 9.40 L11.32 9.89 L11.44 10.41 L11.43 10.89 L11.24 11.24 L10.89 11.43 L10.41 11.44 L9.89 11.32 L9.40 11.16 L8.99 11.04 L8.68 11.07 L8.45 11.27 L8.24 11.64 L8.01 12.10 L7.73 12.55 L7.39 12.88 L7.00 13.00 L6.61 12.88 L6.27 12.55 L5.99 12.10 L5.76 11.64 L5.55 11.27 L5.32 11.07 L5.01 11.04 L4.60 11.16 L4.11 11.32 L3.59 11.44 L3.11 11.43 L2.76 11.24 L2.57 10.89 L2.56 10.41 L2.68 9.89 L2.84 9.40 L2.96 8.99 L2.93 8.68 L2.73 8.45 L2.36 8.24 L1.90 8.01 L1.45 7.73 L1.12 7.39 L1.00 7.00 L1.12 6.61 L1.45 6.27 L1.90 5.99 L2.36 5.76 L2.73 5.55 L2.93 5.32 L2.96 5.01 L2.84 4.60 L2.68 4.11 L2.56 3.59 L2.57 3.11 L2.76 2.76 L3.11 2.57 L3.59 2.56 L4.11 2.68 L4.60 2.84 L5.01 2.96 L5.32 2.93 L5.55 2.73 L5.76 2.36 L5.99 1.90 L6.27 1.45 L6.61 1.12 L7.00 1.00 L7.39 1.12 L7.73 1.45 L8.01 1.90 L8.24 2.36 L8.45 2.73 L8.68 2.93 L8.99 2.96 L9.40 2.84 L9.89 2.68 L10.41 2.56 L10.89 2.57 L11.24 2.76 L11.43 3.11 L11.44 3.59 L11.32 4.11 L11.16 4.60 L11.04 5.01 L11.07 5.32 L11.27 5.55 L11.64 5.76 L12.10 5.99 L12.55 6.27 L12.88 6.61 Z"/><circle cx="7" cy="7" r="1.7"/></svg>
<div class="t par" style="left:588px;top:601.5px">The number of clients who</div>
<div class="t par" style="left:588px;top:614.8px">abandoned the deal <b>after</b></div>
<div class="t par" style="left:588px;top:628px"><b>demo increased by 3%.</b></div>
<div class="t par" style="left:588px;top:653.8px"><b>Logistics costs also increased</b></div>
<div class="t par" style="left:588px;top:667px"><b>by 11.5%.</b></div>
<div class="t lab" style="left:785px;top:601px">Qualiciation</div>
<div class="t lab" style="left:857px;top:601px">Demo</div>
<div class="t lab" style="left:928.8px;top:601px">Closing</div>
<div class="t val" style="left:785px">32%</div>
<div class="t val" style="left:857px">27%</div>
<div class="t val" style="left:928.8px">14%</div>
<svg class="a" style="left:950px;top:619px" width="5" height="5"><path d="M0.5 1 H4.5 L2.5 4 Z" fill="#e04a5a"/></svg>
<div class="a" style="left:785px;top:643.3px;width:71.5px;height:66px;background:#e0e0e0;border-radius:3px"></div>
<div class="a" style="left:856.9px;top:657.1px;width:72px;height:52.1px;background:#262626;border-radius:3px"></div>
<div class="a" style="left:929.3px;top:680.4px;width:71.4px;height:28.8px;background:#fff46e;border-radius:3px"></div>
<!-- bottom cards -->
<div class="a wc" style="left:564px;top:735px;width:237.3px;height:70px"></div>
<div class="a wc" style="left:803.6px;top:735px;width:220.5px;height:70px"></div>
<div class="t" style="left:588px;top:760.5px;font-size:14px;color:#1e1e1e">Sales Trend</div>
<div class="t" style="left:827px;top:760.5px;font-size:14px;color:#1e1e1e">Paybles Trend</div>
<div class="ib lb" style="left:749px;top:753px"></div>
<div class="ib lb" style="left:971.2px;top:753px"></div>
<svg class="ico" style="left:756.3px;top:760.4px;stroke:#222;stroke-width:1.05" width="14" height="14" viewBox="0 0 14 14"><path d="M13.00 7.00 L12.88 7.39 L12.55 7.73 L12.10 8.01 L11.64 8.24 L11.27 8.45 L11.07 8.68 L11.04 8.99 L11.16 9.40 L11.32 9.89 L11.44 10.41 L11.43 10.89 L11.24 11.24 L10.89 11.43 L10.41 11.44 L9.89 11.32 L9.40 11.16 L8.99 11.04 L8.68 11.07 L8.45 11.27 L8.24 11.64 L8.01 12.10 L7.73 12.55 L7.39 12.88 L7.00 13.00 L6.61 12.88 L6.27 12.55 L5.99 12.10 L5.76 11.64 L5.55 11.27 L5.32 11.07 L5.01 11.04 L4.60 11.16 L4.11 11.32 L3.59 11.44 L3.11 11.43 L2.76 11.24 L2.57 10.89 L2.56 10.41 L2.68 9.89 L2.84 9.40 L2.96 8.99 L2.93 8.68 L2.73 8.45 L2.36 8.24 L1.90 8.01 L1.45 7.73 L1.12 7.39 L1.00 7.00 L1.12 6.61 L1.45 6.27 L1.90 5.99 L2.36 5.76 L2.73 5.55 L2.93 5.32 L2.96 5.01 L2.84 4.60 L2.68 4.11 L2.56 3.59 L2.57 3.11 L2.76 2.76 L3.11 2.57 L3.59 2.56 L4.11 2.68 L4.60 2.84 L5.01 2.96 L5.32 2.93 L5.55 2.73 L5.76 2.36 L5.99 1.90 L6.27 1.45 L6.61 1.12 L7.00 1.00 L7.39 1.12 L7.73 1.45 L8.01 1.90 L8.24 2.36 L8.45 2.73 L8.68 2.93 L8.99 2.96 L9.40 2.84 L9.89 2.68 L10.41 2.56 L10.89 2.57 L11.24 2.76 L11.43 3.11 L11.44 3.59 L11.32 4.11 L11.16 4.60 L11.04 5.01 L11.07 5.32 L11.27 5.55 L11.64 5.76 L12.10 5.99 L12.55 6.27 L12.88 6.61 Z"/><circle cx="7" cy="7" r="1.7"/></svg>
<svg class="ico" style="left:978.5px;top:760.4px;stroke:#222;stroke-width:1.05" width="14" height="14" viewBox="0 0 14 14"><path d="M13.00 7.00 L12.88 7.39 L12.55 7.73 L12.10 8.01 L11.64 8.24 L11.27 8.45 L11.07 8.68 L11.04 8.99 L11.16 9.40 L11.32 9.89 L11.44 10.41 L11.43 10.89 L11.24 11.24 L10.89 11.43 L10.41 11.44 L9.89 11.32 L9.40 11.16 L8.99 11.04 L8.68 11.07 L8.45 11.27 L8.24 11.64 L8.01 12.10 L7.73 12.55 L7.39 12.88 L7.00 13.00 L6.61 12.88 L6.27 12.55 L5.99 12.10 L5.76 11.64 L5.55 11.27 L5.32 11.07 L5.01 11.04 L4.60 11.16 L4.11 11.32 L3.59 11.44 L3.11 11.43 L2.76 11.24 L2.57 10.89 L2.56 10.41 L2.68 9.89 L2.84 9.40 L2.96 8.99 L2.93 8.68 L2.73 8.45 L2.36 8.24 L1.90 8.01 L1.45 7.73 L1.12 7.39 L1.00 7.00 L1.12 6.61 L1.45 6.27 L1.90 5.99 L2.36 5.76 L2.73 5.55 L2.93 5.32 L2.96 5.01 L2.84 4.60 L2.68 4.11 L2.56 3.59 L2.57 3.11 L2.76 2.76 L3.11 2.57 L3.59 2.56 L4.11 2.68 L4.60 2.84 L5.01 2.96 L5.32 2.93 L5.55 2.73 L5.76 2.36 L5.99 1.90 L6.27 1.45 L6.61 1.12 L7.00 1.00 L7.39 1.12 L7.73 1.45 L8.01 1.90 L8.24 2.36 L8.45 2.73 L8.68 2.93 L8.99 2.96 L9.40 2.84 L9.89 2.68 L10.41 2.56 L10.89 2.57 L11.24 2.76 L11.43 3.11 L11.44 3.59 L11.32 4.11 L11.16 4.60 L11.04 5.01 L11.07 5.32 L11.27 5.55 L11.64 5.76 L12.10 5.99 L12.55 6.27 L12.88 6.61 Z"/><circle cx="7" cy="7" r="1.7"/></svg>
</div>
</body></html>
